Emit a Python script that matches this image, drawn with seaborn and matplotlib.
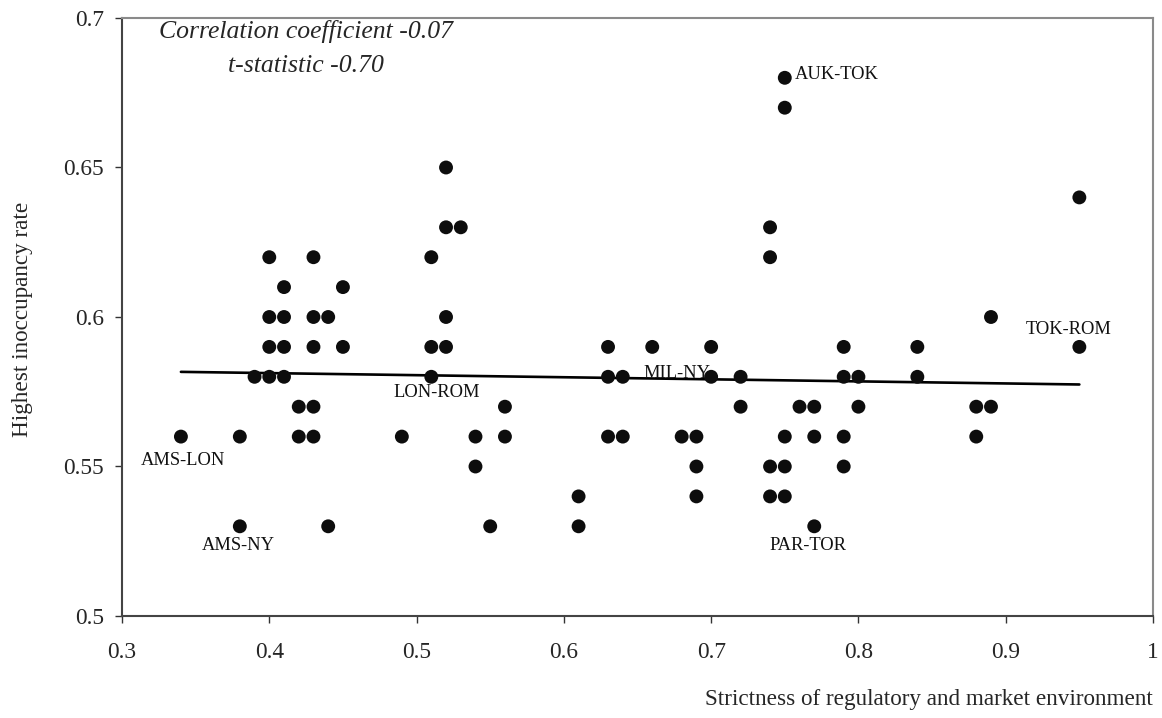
import matplotlib
matplotlib.use("Agg")
import matplotlib.pyplot as plt
import seaborn as sns
import pandas as pd

# Data (x = strictness, y = highest inoccupancy rate)
strictness = [
    0.34,
    0.38, 0.38,
    0.39,
    0.40, 0.40, 0.40, 0.40,
    0.41, 0.41, 0.41, 0.41,
    0.42, 0.42,
    0.43, 0.43, 0.43, 0.43, 0.43,
    0.44, 0.44,
    0.45, 0.45,
    0.49,
    0.51, 0.51, 0.51,
    0.52, 0.52, 0.52, 0.52,
    0.53,
    0.54, 0.54,
    0.55,
    0.56, 0.56,
    0.61, 0.61,
    0.63, 0.63, 0.63,
    0.64, 0.64,
    0.66,
    0.68,
    0.69, 0.69, 0.69,
    0.70, 0.70,
    0.72, 0.72,
    0.74, 0.74, 0.74, 0.74,
    0.75, 0.75, 0.75, 0.75, 0.75,
    0.76,
    0.77, 0.77, 0.77,
    0.79, 0.79, 0.79, 0.79,
    0.80, 0.80,
    0.84, 0.84,
    0.88, 0.88,
    0.89, 0.89,
    0.95, 0.95,
]
inoccupancy = [
    0.56,
    0.56, 0.53,
    0.58,
    0.62, 0.60, 0.59, 0.58,
    0.61, 0.60, 0.59, 0.58,
    0.57, 0.56,
    0.62, 0.60, 0.59, 0.57, 0.56,
    0.60, 0.53,
    0.61, 0.59,
    0.56,
    0.62, 0.59, 0.58,
    0.65, 0.63, 0.60, 0.59,
    0.63,
    0.56, 0.55,
    0.53,
    0.57, 0.56,
    0.54, 0.53,
    0.59, 0.58, 0.56,
    0.58, 0.56,
    0.59,
    0.56,
    0.56, 0.55, 0.54,
    0.59, 0.58,
    0.58, 0.57,
    0.63, 0.62, 0.55, 0.54,
    0.68, 0.67, 0.56, 0.55, 0.54,
    0.57,
    0.57, 0.56, 0.53,
    0.59, 0.58, 0.56, 0.55,
    0.58, 0.57,
    0.59, 0.58,
    0.57, 0.56,
    0.60, 0.57,
    0.64, 0.59,
]

# Labelled city pairs
pair_names = ["AMS-LON", "AMS-NY", "LON-ROM", "MIL-NY", "AUK-TOK", "PAR-TOR", "TOK-ROM"]
pair_x = [0.34, 0.38, 0.51, 0.70, 0.75, 0.77, 0.95]
pair_y = [0.56, 0.53, 0.58, 0.58, 0.68, 0.53, 0.59]

x_ticks = [0.3, 0.4, 0.5, 0.6, 0.7, 0.8, 0.9, 1.0]
x_tick_labels = ["0.3", "0.4", "0.5", "0.6", "0.7", "0.8", "0.9", "1"]
y_ticks = [0.5, 0.55, 0.6, 0.65, 0.7]
y_tick_labels = ["0.5", "0.55", "0.6", "0.65", "0.7"]

df = pd.DataFrame({"strictness": strictness, "inoccupancy": inoccupancy})

sns.set_style("white")
plt.rcParams["font.family"] = ["Liberation Serif", "DejaVu Serif"]

fig = plt.figure(figsize=(11.62, 7.18), dpi=100)
ax = fig.add_axes([122 / 1162, 1 - 616 / 718, (1153 - 122) / 1162, (616 - 18) / 718])

sns.regplot(
    data=df, x="strictness", y="inoccupancy", ax=ax, ci=None, truncate=True,
    scatter_kws=dict(s=100, color="#0d0d0d", alpha=1, edgecolor="none", zorder=3),
    line_kws=dict(color="black", lw=1.9, zorder=2),
)

offsets = {
    "AMS-LON": (2, -24),
    "AMS-NY": (-2, -19),
    "LON-ROM": (5, -16),
    "MIL-NY": (-34, 3),
    "AUK-TOK": (52, 3),
    "PAR-TOR": (-6, -19),
    "TOK-ROM": (-11, 17),
}
for name, px, py in zip(pair_names, pair_x, pair_y):
    dx, dy = offsets[name]
    ax.annotate(name, (px, py), xytext=(dx, dy), textcoords="offset pixels",
                ha="center", va="center", fontsize=13.3, color="#111111")

ax.set_xlim(0.3, 1.0)
ax.set_ylim(0.5, 0.7)
ax.set_xticks(x_ticks)
ax.set_xticklabels(x_tick_labels)
ax.set_yticks(y_ticks)
ax.set_yticklabels(y_tick_labels)
ax.tick_params(axis="both", direction="out", length=5, width=1, color="#333333",
               labelsize=16.8, bottom=True, left=True)
ax.tick_params(axis="y", pad=8)
ax.tick_params(axis="x", pad=14)

for side, sp in ax.spines.items():
    sp.set_visible(True)
    sp.set_color("#8a8a8a")
    sp.set_linewidth(1.5)
ax.spines["left"].set_color("#444444")
ax.spines["bottom"].set_color("#444444")

ax.set_xlabel("")
ax.set_ylabel("")
fig.text(1153 / 1162, 1 - 700 / 718, "Strictness of regulatory and market environment",
         ha="right", va="center", fontsize=16.7)
fig.text(23 / 1162, 1 - 319 / 718, "Highest inoccupancy rate", rotation=90,
         ha="center", va="center", fontsize=16.7)

ax.text(0.178, 0.949, "Correlation coefficient -0.07\nt-statistic -0.70",
        transform=ax.transAxes, ha="center", va="center", fontsize=18.5,
        style="italic", linespacing=1.65)

fig.savefig("out.png", dpi=100)
